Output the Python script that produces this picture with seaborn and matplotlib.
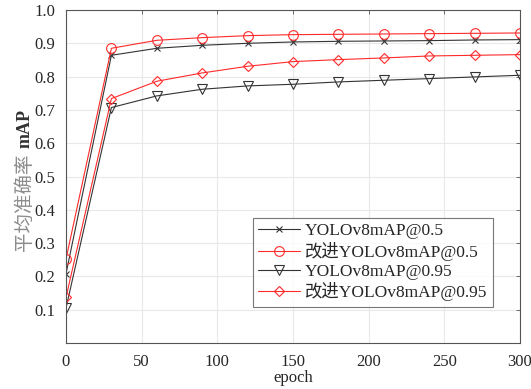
import matplotlib
matplotlib.use("Agg")
import matplotlib.pyplot as plt
import seaborn as sns
import pandas as pd

epochs = [0, 30, 60, 90, 120, 150, 180, 210, 240, 270, 300]
yolo_map50 = [0.208, 0.864, 0.885, 0.894, 0.900, 0.904, 0.906, 0.907, 0.908, 0.910, 0.911]
imp_map50 = [0.252, 0.885, 0.909, 0.917, 0.923, 0.926, 0.927, 0.928, 0.929, 0.930, 0.931]
yolo_map95 = [0.105, 0.707, 0.742, 0.762, 0.772, 0.777, 0.784, 0.789, 0.794, 0.799, 0.804]
imp_map95 = [0.137, 0.734, 0.786, 0.811, 0.831, 0.845, 0.851, 0.856, 0.862, 0.864, 0.866]
labels = ["YOLOv8mAP@0.5", "改进YOLOv8mAP@0.5", "YOLOv8mAP@0.95", "改进YOLOv8mAP@0.95"]
x_ticks = [0, 50, 100, 150, 200, 250, 300]
y_ticks = [0.1, 0.2, 0.3, 0.4, 0.5, 0.6, 0.7, 0.8, 0.9, 1.0]

sns.set_style("white")
plt.rcParams['font.family'] = ['Liberation Serif', 'Noto Sans CJK SC', 'DejaVu Sans']
plt.rcParams['font.size'] = 12

fig = plt.figure(figsize=(5.31, 3.89), dpi=100)
L, R, T, B = 66, 520, 10, 343
ax = fig.add_axes([L/531, 1-B/389, (R-L)/531, (B-T)/389])

series = [yolo_map50, imp_map50, yolo_map95, imp_map95]
colors = ["#333333", "#ff2a2a", "#333333", "#ff2a2a"]
markers = ["x", "o", "v", "D"]
msizes = [4.5, 7, 7, 5.5]
for vals, lab, c, m, ms in zip(series, labels, colors, markers, msizes):
    df = pd.DataFrame({"epoch": epochs, "v": vals})
    sns.lineplot(data=df, x="epoch", y="v", ax=ax, color=c, marker=m,
                 markersize=ms, markerfacecolor="none", markeredgecolor=c,
                 markeredgewidth=0.8, linewidth=0.8, label=lab)

ax.set_xlim(0, 300)
ax.set_ylim(0, 1.0)
ax.set_xticks(x_ticks)
ax.set_yticks(y_ticks)
ax.set_yticklabels([f"{t:.1f}" for t in y_ticks])
ax.grid(True, color="#e8e8e8", linewidth=0.8)
ax.set_axisbelow(True)
for s in ax.spines.values():
    s.set_color("#555555")
    s.set_linewidth(0.8)
ax.tick_params(direction="in", length=3, width=0.6, color="#555555",
               top=True, right=True, labelsize=12, pad=8)
ax.set_xlabel("epoch", fontsize=12, labelpad=0)
ax.set_ylabel("")

fig.text(24/531, 1-202/389, "平均准确率", rotation=90, ha="center", va="center",
         fontsize=14, color="#8c8c8c", family=['Noto Sans CJK SC'])
fig.text(25/531, 1-129/389, "mAP", rotation=90, ha="center", va="center",
         fontsize=13, fontweight="bold", color="#333333", family=['Liberation Serif'])

leg = ax.legend(loc="upper left", bbox_to_anchor=((253-L)/(R-L), (B-218)/(B-T)),
                frameon=True, fancybox=False, fontsize=12.5, borderpad=0.3,
                labelspacing=0.15, handlelength=2.4, handletextpad=0.3,
                borderaxespad=0)
leg.get_frame().set_edgecolor("#555555")
leg.get_frame().set_linewidth(0.8)

fig.savefig("out.png", dpi=100)
